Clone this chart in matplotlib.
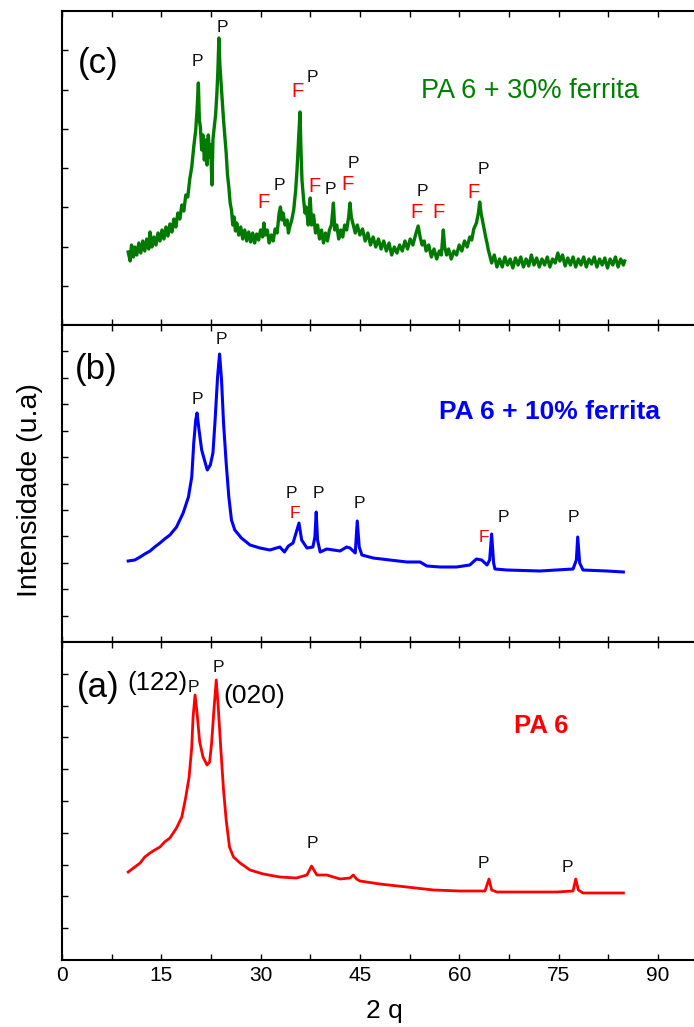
import numpy as np
import matplotlib
matplotlib.use('Agg')
import matplotlib.pyplot as plt

plt.rcParams['font.family'] = ['Liberation Sans', 'DejaVu Sans']

# ── Data (2θ in degrees, intensity in a.u.) ──────────────────────────────────
green_x = [10.0, 10.3, 10.5, 10.8, 11.0, 11.3, 11.6, 11.9, 12.2, 12.5, 12.8, 13.1,
           13.3, 13.6, 13.9, 14.2, 14.5, 14.8, 15.1, 15.4, 15.7, 16.0, 16.3, 16.6,
           16.9, 17.2, 17.5, 17.8, 18.1, 18.4, 18.7, 19.0, 19.3, 19.6, 19.9, 20.2,
           20.4, 20.6, 20.75, 20.9, 21.1, 21.3, 21.5, 21.75, 21.9, 22.1, 22.3, 22.45,
           22.65, 22.8, 22.95, 23.2, 23.4, 23.55, 23.7, 23.85, 24.0, 24.2, 24.4, 24.6,
           24.8, 25.0, 25.2, 25.4, 25.6, 25.8, 26.0, 26.2, 26.4, 26.7, 27.0, 27.3,
           27.6, 27.9, 28.2, 28.5, 28.8, 29.1, 29.4, 29.7, 30.0, 30.3, 30.5, 30.7,
           31.0, 31.3, 31.6, 31.9, 32.2, 32.5, 32.8, 33.0, 33.2, 33.4, 33.7, 34.0,
           34.2, 34.4, 34.7, 35.0, 35.3, 35.5, 35.7, 35.95, 36.1, 36.25, 36.5, 36.7,
           36.9, 37.2, 37.5, 37.7, 38.0, 38.3, 38.6, 38.9, 39.2, 39.5, 39.8, 40.1,
           40.4, 40.7, 41.0, 41.2, 41.5, 41.8, 42.1, 42.4, 42.7, 43.0, 43.3, 43.5,
           43.7, 44.0, 44.3, 44.6, 45.0, 45.4, 45.8, 46.2, 46.6, 47.0, 47.4, 47.8,
           48.2, 48.6, 49.0, 49.4, 49.8, 50.2, 50.6, 51.0, 51.4, 51.8, 52.2, 52.6,
           53.0, 53.4, 53.8, 54.1, 54.4, 54.7, 55.0, 55.4, 55.8, 56.2, 56.6, 57.0,
           57.3, 57.6, 57.8, 58.1, 58.4, 58.8, 59.2, 59.6, 60.0, 60.4, 60.8, 61.2,
           61.6, 61.9, 62.2, 62.6, 62.9, 63.1, 63.3, 63.5, 63.8, 64.0, 64.2, 64.4,
           64.6, 64.9, 65.3, 65.7, 66.1, 66.5, 66.9, 67.3, 67.7, 68.1, 68.5, 68.9,
           69.3, 69.7, 70.1, 70.5, 70.9, 71.3, 71.7, 72.1, 72.5, 72.9, 73.3, 73.7,
           74.1, 74.5, 74.9, 75.2, 75.6, 76.0, 76.4, 76.8, 77.2, 77.6, 78.0, 78.4,
           78.8, 79.2, 79.6, 80.0, 80.4, 80.8, 81.2, 81.6, 82.0, 82.4, 82.8, 83.2,
           83.6, 84.0, 84.4, 84.8, 85.0]
green_y = [73, 64, 80, 68, 78, 70, 82, 72, 84, 74, 86, 76,
           93, 78, 88, 80, 92, 84, 95, 86, 98, 89, 101, 93,
           106, 98, 112, 106, 120, 114, 130, 128, 146, 158, 178, 195,
           215, 242, 205, 198, 175, 190, 165, 185, 160, 190, 168, 180,
           140, 185, 195, 210, 232, 255, 287, 260, 245, 225, 205, 188,
           172, 150, 138, 122, 115, 100, 108, 94, 102, 90, 98, 86,
           95, 84, 93, 83, 92, 82, 91, 85, 95, 88, 102, 90,
           95, 82, 90, 84, 96, 92, 112, 118, 105, 112, 100, 105,
           92, 98, 105, 115, 135, 155, 180, 213, 175, 145, 125, 112,
           118, 100, 127, 100, 110, 92, 100, 86, 95, 82, 92, 84,
           95, 100, 122, 95, 100, 86, 95, 88, 100, 95, 108, 122,
           108, 100, 92, 100, 90, 96, 84, 92, 80, 88, 78, 86,
           76, 84, 74, 82, 70, 78, 72, 80, 74, 84, 76, 86,
           80, 90, 99, 88, 80, 84, 74, 80, 68, 76, 66, 74,
           70, 95, 78, 70, 76, 66, 74, 70, 80, 74, 84, 78,
           88, 85, 96, 102, 112, 123, 112, 105, 95, 88, 82, 75,
           70, 62, 70, 58, 66, 58, 68, 60, 66, 57, 67, 60,
           68, 58, 66, 59, 70, 60, 67, 58, 66, 60, 68, 58,
           66, 62, 72, 64, 70, 59, 67, 60, 68, 58, 66, 60,
           68, 58, 66, 61, 68, 58, 66, 60, 67, 57, 66, 60,
           68, 58, 66, 60, 64]

blue_x = [10.0, 11.0, 11.8, 12.5, 13.3, 14.0, 14.8, 15.5, 16.3, 17.3, 18.3, 19.1,
          19.6, 19.9, 20.2, 20.4, 20.7, 21.1, 21.6, 21.95, 22.4, 22.8, 23.1, 23.5,
          23.8, 24.1, 24.4, 24.8, 25.2, 25.6, 26.1, 27.1, 28.4, 29.9, 31.4, 32.9,
          33.6, 34.2, 34.9, 35.4, 35.8, 36.2, 37.0, 37.9, 38.2, 38.4, 38.6, 39.0,
          40.0, 41.0, 42.0, 43.0, 43.5, 44.3, 44.6, 44.9, 45.3, 47.0, 49.5, 52.1,
          54.1, 55.1, 57.1, 59.6, 61.6, 62.6, 63.4, 64.2, 64.6, 64.9, 65.2, 65.4,
          67.2, 72.2, 77.2, 77.7, 77.9, 78.2, 78.7, 82.3, 84.8]
blue_y = [81, 82, 85, 88, 91, 95, 99, 103, 107, 115, 129, 145,
          165, 199, 222, 229, 212, 192, 180, 172, 177, 189, 219, 265,
          288, 262, 219, 179, 145, 122, 112, 104, 97, 94, 92, 95,
          90, 96, 99, 110, 119, 102, 94, 95, 105, 130, 102, 90,
          93, 92, 91, 95, 94, 89, 121, 95, 87, 84, 82, 80,
          80, 76, 75, 75, 77, 83, 82, 77, 82, 108, 79, 73,
          72, 71, 73, 82, 105, 79, 72, 71, 70]

red_x = [10.0, 11.0, 11.8, 12.5, 13.3, 14.0, 14.8, 15.5, 16.3, 17.3, 18.1, 18.7,
         19.2, 19.6, 19.8, 20.1, 20.4, 20.8, 21.3, 21.9, 22.3, 22.6, 22.95, 23.3,
         23.6, 24.0, 24.4, 24.8, 25.3, 25.9, 26.9, 28.4, 30.4, 32.9, 35.4, 37.0,
         37.7, 38.5, 40.0, 42.0, 43.5, 44.0, 44.5, 45.0, 48.0, 52.1, 56.1, 60.1,
         63.9, 64.5, 64.9, 65.7, 69.7, 74.7, 77.2, 77.6, 78.0, 78.7, 84.8]
red_y = [88, 93, 97, 103, 107, 110, 113, 118, 122, 132, 143, 163,
         183, 213, 243, 265, 247, 218, 203, 195, 198, 217, 250, 280,
         253, 210, 170, 140, 113, 103, 97, 90, 86, 83, 82, 85,
         94, 85, 85, 81, 82, 85, 81, 79, 76, 73, 70, 69,
         69, 81, 70, 68, 68, 68, 69, 81, 70, 67, 67]

# peak markers: (2θ, intensity, letter)
marks_c = [(20.4, 264, 'P'), (24.2, 298, 'P'), (35.6, 234, 'F'), (37.8, 248, 'P'),
           (30.5, 122, 'F'), (32.9, 139, 'P'), (38.2, 138, 'F'), (40.6, 136, 'P'),
           (43.1, 140, 'F'), (44.0, 162, 'P'), (53.6, 112, 'F'), (54.5, 133, 'P'),
           (56.9, 112, 'F'), (62.2, 132, 'F'), (63.7, 156, 'P')]
marks_b = [(20.4, 242, 'P'), (24.0, 302, 'P'), (34.7, 149, 'P'), (35.2, 129, 'F'),
           (38.7, 149, 'P'), (44.9, 139, 'P'), (63.7, 105, 'F'), (66.6, 125, 'P'),
           (77.3, 125, 'P')]
marks_a = [(19.8, 273, 'P'), (23.6, 293, 'P'), (37.8, 116, 'P'), (63.7, 96, 'P'),
           (76.4, 92, 'P')]

# ── Layout (pixel geometry of the original figure) ──────────────────────────
W, H = 694, 1027
fig = plt.figure(figsize=(W / 100, H / 100), dpi=100)

LEFT, PX_PER_DEG = 62, 6.62
panels = [  # top px, bottom px, y-tick intervals
    (11, 325, 8),
    (325, 642, 12),
    (642, 960, 10),
]
axes = []
for top, bot, nint in panels:
    ax = fig.add_axes([LEFT / W, 1 - bot / H, 100 * PX_PER_DEG / W, (bot - top) / H])
    ax.set_xlim(0, 100)
    ax.set_ylim(0, bot - top)
    ax.set_xticks(np.arange(0, 100.1, 15))
    ax.set_xticks(np.arange(7.5, 100, 15), minor=True)
    ax.set_yticks(np.linspace(0, bot - top, nint + 1)[1:-1])
    ax.set_yticklabels([])
    ax.tick_params(which='both', direction='in', top=True, bottom=True,
                   left=True, right=False, length=4, width=1)
    ax.tick_params(axis='x', labelsize=15, pad=4)
    for s in ax.spines.values():
        s.set_linewidth(1.5)
    axes.append(ax)

ax_c, ax_b, ax_a = axes
ax_c.tick_params(labelbottom=False)
ax_b.tick_params(labelbottom=False)

ax_c.plot(green_x, green_y, color='#007a00', lw=2.4)
ax_b.plot(blue_x, blue_y, color='#0000ff', lw=2.2)
ax_a.plot(red_x, red_y, color='#ff0000', lw=2.0)

for ax, marks, fsize in [(ax_c, marks_c, 14.5), (ax_b, marks_b, 12.5), (ax_a, marks_a, 12.5)]:
    for x, y, lab in marks:
        ax.text(x, y, lab, ha='center', va='center',
                fontsize=12.5 if lab == 'P' else fsize,
                color='#111111' if lab == 'P' else '#ff0000')

# panel tags and sample names
ax_c.text(5.4, 262, '(c)', fontsize=25, ha='center', va='center')
ax_b.text(5.1, 272, '(b)', fontsize=25, ha='center', va='center')
ax_a.text(5.4, 272, '(a)', fontsize=25, ha='center', va='center')
ax_a.text(14.4, 277, '(122)', fontsize=18.5, ha='center', va='center')
ax_a.text(29.0, 264, '(020)', fontsize=19, ha='center', va='center')

ax_c.text(70.7, 234, 'PA 6 + 30% ferrita', fontsize=19.5, color='#008000',
          ha='center', va='center')
ax_b.text(73.6, 230, 'PA 6 + 10% ferrita', fontsize=19, color='#0000ff',
          fontweight='bold', ha='center', va='center')
ax_a.text(72.4, 234, 'PA 6', fontsize=18.5, color='#ff0000',
          fontweight='bold', ha='center', va='center')

fig.text(30 / W, 1 - 490 / H, 'Intensidade (u.a)', rotation=90,
         fontsize=20.5, ha='center', va='center')
fig.text(384 / W, 1 - 1011 / H, '2 q', fontsize=19, ha='center', va='center')

plt.savefig('out.png', dpi=100)
